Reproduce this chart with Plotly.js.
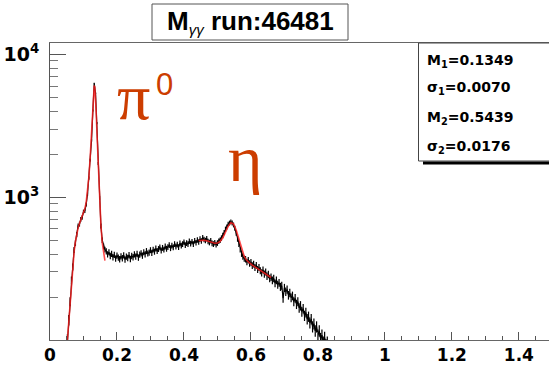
<!DOCTYPE html>
<html>
<head>
<meta charset="utf-8">
<script src="https://cdn.plot.ly/plotly-3.0.1.min.js"></script>
<style>
html,body{margin:0;padding:0;overflow:hidden;background:#fff;}
#chart{width:549px;height:366px;}
</style>
</head>
<body>
<div id="chart"></div>
<script>
// ---- data ----
const histStart = 0.048;   // first bin centre (GeV)
const binWidth = 0.004;    // bin width (GeV)
const counts = [
  72,100,138,186,262,325,428,478,548,630,
  648,700,722,790,805,890,1050,1360,1820,2500,
  4050,6250,5350,3300,1720,990,630,500,452,430,
  418,398,412,388,402,380,395,372,390,378,
  368,386,374,392,366,384,376,394,370,388,
  380,398,384,402,378,396,405,390,412,398,
  420,404,410,426,408,430,416,438,420,434,
  446,424,442,430,452,436,448,462,440,458,
  446,470,452,466,448,476,458,470,484,462,
  478,470,492,474,488,470,496,480,502,486,
  510,494,520,506,498,512,490,482,496,476,
  470,480,466,478,492,500,518,540,566,598,
  620,648,660,672,660,640,606,560,510,470,
  430,402,384,372,368,352,362,344,350,332,
  340,322,334,312,322,306,296,310,290,300,
  280,288,270,276,262,270,250,262,244,252,
  236,240,196,232,218,226,206,214,198,204,
  186,196,178,186,168,174,158,166,148,156,
  140,146,132,140,124,130,116,124,108,116,
  102,108,96,104,92,96
];

const fitPi0X = [0.052,0.056,0.060,0.064,0.068,0.072,0.076,0.080,0.084,0.088,0.092,0.096,0.100,0.104,0.108,0.112,0.116,0.120,0.124,0.128,0.130,0.132,0.134,0.136,0.138,0.140,0.144,0.148,0.152,0.156,0.160,0.164];
const fitPi0Y = [100,137,188,255,330,415,490,555,610,655,695,735,780,830,920,1080,1380,1900,2800,4300,5300,6050,5900,5000,3900,2900,1600,950,640,480,400,360];

const fitEtaX = [0.444,0.452,0.460,0.468,0.476,0.484,0.492,0.500,0.508,0.516,0.524,0.532,0.540,0.548,0.556,0.564,0.572,0.580,0.588,0.596,0.604,0.612,0.620,0.628,0.636,0.644,0.652,0.660];
const fitEtaY = [498,500,500,496,488,480,476,478,490,520,570,625,662,650,590,505,430,385,360,346,335,325,316,307,298,290,281,274];

const titleText = 'M<sub><span style="font-size:15px;font-weight:normal;font-style:italic">γγ</span></sub> run:46481';
const statsLines = ['M<sub>1</sub>=0.1349','σ<sub>1</sub>=0.0070','M<sub>2</sub>=0.5439','σ<sub>2</sub>=0.0176'];
const xTickVals = [0,0.2,0.4,0.6,0.8,1,1.2,1.4];
const xTickText = ['0','0.2','0.4','0.6','0.8','1','1.2','1.4'];
const yTickVals = [1000,10000];
const yTickText = ['10<sup>3</sup>','10<sup>4</sup>'];
const yMinorVals = [200,300,400,500,600,700,800,900,2000,3000,4000,5000,6000,7000,8000,9000];

// ---- layout helpers (pixel -> paper) ----
const W = 549, H = 366, ML = 50, MR = 0, MT = 43, MB = 26;
const PW = W - ML - MR, PH = H - MT - MB;
const px = X => (X - ML) / PW;
const py = Y => (H - MB - Y) / PH;

const histX = counts.map((_, i) => +(histStart + i * binWidth).toFixed(4));
// Poisson uncertainty of each bin, as the histogram package draws it
const histErr = counts.map(c => Math.sqrt(c));

const traces = [
  {x: histX, y: counts, type: 'scatter', mode: 'lines',
   line: {color: '#000', width: 1.2}, hoverinfo: 'skip',
   error_y: {type: 'data', array: histErr, visible: true, width: 0, thickness: 1.2, color: '#000'}},
  {x: fitPi0X, y: fitPi0Y, type: 'scatter', mode: 'lines',
   line: {color: 'rgba(255,30,30,0.8)', width: 1.6}, hoverinfo: 'skip'},
  {x: fitEtaX, y: fitEtaY, type: 'scatter', mode: 'lines',
   line: {color: 'rgba(255,30,30,0.8)', width: 1.6}, hoverinfo: 'skip'}
];

const sansBold = {family: 'DejaVu Sans', weight: 'bold', color: '#000'};
const red = '#cc3d00';

const annotations = [
  {text: titleText, x: px(250), y: py(22), xref: 'paper', yref: 'paper',
   xanchor: 'center', yanchor: 'middle', showarrow: false,
   font: {family: 'Liberation Sans, Arial', weight: 'bold', size: 26, color: '#000'}},
  {text: 'π', x: px(115), y: py(135), xref: 'paper', yref: 'paper',
   xanchor: 'left', yanchor: 'bottom', showarrow: false,
   font: {family: 'Liberation Serif', size: 66, color: red}},
  {text: '0', x: px(154), y: py(104), xref: 'paper', yref: 'paper',
   xanchor: 'left', yanchor: 'bottom', showarrow: false,
   font: {family: 'Liberation Sans', size: 31, color: red}},
  {text: 'η', x: px(226), y: py(197), xref: 'paper', yref: 'paper',
   xanchor: 'left', yanchor: 'bottom', showarrow: false,
   font: {family: 'Liberation Serif', size: 66, color: red}}
];
const statsY = [61, 88, 117.5, 146.5];
statsLines.forEach((t, i) => annotations.push({
  text: t, x: px(425), y: py(statsY[i]), xref: 'paper', yref: 'paper',
  xanchor: 'left', yanchor: 'middle', showarrow: false,
  font: Object.assign({size: 14}, sansBold)
}));

const shapes = [
  // title box
  {type: 'rect', xref: 'paper', yref: 'paper', x0: px(152), x1: px(348), y0: py(40), y1: py(4),
   line: {color: '#555', width: 1}, fillcolor: '#fff'},
  // stats box
  {type: 'rect', xref: 'paper', yref: 'paper', x0: px(418.5), x1: px(552), y0: py(161), y1: py(43),
   line: {color: '#444', width: 1}, fillcolor: '#fff'},
  {type: 'line', xref: 'paper', yref: 'paper', x0: px(423), x1: px(552), y0: py(163), y1: py(163),
   line: {color: '#000', width: 3}}
];

const layout = {
  width: W, height: H,
  margin: {l: ML, r: MR, t: MT, b: MB, pad: 0},
  paper_bgcolor: '#fff', plot_bgcolor: '#fff',
  showlegend: false,
  xaxis: {
    range: [0, 1.49], showgrid: false, zeroline: false,
    showline: true, linecolor: '#666', linewidth: 1, mirror: true,
    tickmode: 'array', tickvals: xTickVals, ticktext: xTickText,
    ticks: 'inside', ticklen: 8, tickcolor: '#555', tickwidth: 1,
    tickfont: {family: 'DejaVu Sans', weight: 'bold', size: 17, color: '#000'},
    minor: {dtick: 0.05, tick0: 0, ticks: 'inside', ticklen: 4, tickcolor: '#555', tickwidth: 1, showgrid: false}
  },
  yaxis: {
    type: 'log', range: [2, 4.08], showgrid: false, zeroline: false,
    showline: true, linecolor: '#555', linewidth: 1, mirror: false,
    tickmode: 'array', tickvals: yTickVals, ticktext: yTickText,
    ticks: 'inside', ticklen: 16, tickcolor: '#555', tickwidth: 1,
    ticklabelstandoff: 6,
    tickfont: {family: 'DejaVu Sans', weight: 'bold', size: 19, color: '#000'},
    minor: {tickmode: 'array', tickvals: yMinorVals, ticks: 'inside', ticklen: 8, tickcolor: '#777', tickwidth: 1, showgrid: false}
  },
  shapes: shapes,
  annotations: annotations
};

Plotly.newPlot('chart', traces, layout, {staticPlot: true, displayModeBar: false});
</script>
</body>
</html>
